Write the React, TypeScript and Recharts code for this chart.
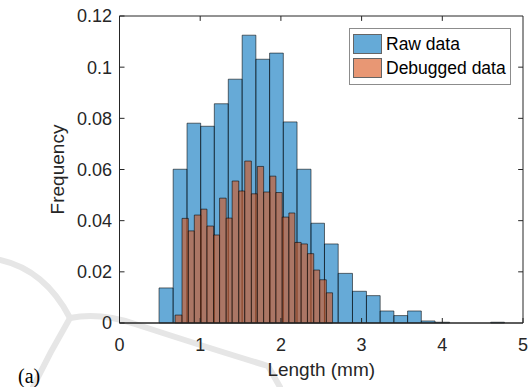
import React from 'react';
import { ComposedChart, XAxis, YAxis, ReferenceArea, ReferenceLine } from 'recharts';

// bin edges (mm) and frequencies
const rawEdges = [0.49, 0.665, 0.837, 1.006, 1.175, 1.348, 1.52, 1.69, 1.86, 2.03, 2.2, 2.373, 2.54, 2.71, 2.887, 3.06, 3.23, 3.4, 3.57, 3.74, 3.91, 4.09, 4.26, 4.43, 4.6, 4.77];
const rawFreq = [0.0137, 0.0601, 0.0781, 0.0769, 0.0857, 0.0953, 0.1125, 0.1031, 0.1055, 0.0786, 0.0601, 0.039, 0.0309, 0.0194, 0.0124, 0.0107, 0.0047, 0.0029, 0.0047, 0.0008, 0.0003, 0, 0, 0, 0.0003];

const debugEdges = [0.689, 0.775, 0.853, 0.927, 1.01, 1.084, 1.166, 1.24, 1.322, 1.396, 1.478, 1.552, 1.634, 1.708, 1.786, 1.864, 1.938, 2.016, 2.099, 2.173, 2.251, 2.329, 2.407, 2.481, 2.563, 2.64];
const debugFreq = [0.0031, 0.0409, 0.036, 0.0422, 0.0445, 0.0379, 0.0344, 0.0488, 0.041, 0.0555, 0.0516, 0.0633, 0.0505, 0.0612, 0.0512, 0.0574, 0.051, 0.0414, 0.043, 0.0315, 0.0309, 0.0271, 0.0207, 0.0169, 0.0118];

const xTicks = [0, 1, 2, 3, 4, 5];
const yTicks = [0, 0.02, 0.04, 0.06, 0.08, 0.1, 0.12];
const xMax = 5;
const yMax = 0.12;

const series = [
  { name: 'Raw data', color: '#0072BD', edges: rawEdges, freq: rawFreq },
  { name: 'Debugged data', color: '#D95319', edges: debugEdges, freq: debugFreq },
];

const font = '"Liberation Sans", Arial, sans-serif';
const axisColor = '#262626';

const fmtY = (v: number) => (v === 0 ? '0' : String(+v.toFixed(2)));

export default function App() {
  return (
    <div style={{ position: 'absolute', left: 0, top: 0, width: 532, height: 387, background: '#fff' }}>
      {/* faint watermark behind the figure */}
      <svg width={532} height={387} style={{ position: 'absolute', left: 0, top: 0 }}>
        <g fill="none" stroke="#e6e6e6" strokeWidth={6} strokeLinecap="round">
          <path d="M0,260 Q45,270 70,318" />
          <path d="M70,318 Q100,312 135,324 Q215,350 268,366 L280,387" />
          <path d="M70,318 Q50,352 33,387" />
        </g>
        <text x={18} y={383} fontFamily='"Liberation Serif", "Times New Roman", serif' fontSize={20} fill="#000">(a)</text>
      </svg>
      <ComposedChart width={532} height={387} margin={{ top: 16, right: 9, bottom: 0, left: 0 }}>
        <XAxis
          type="number"
          dataKey="x"
          domain={[0, xMax]}
          ticks={xTicks}
          allowDataOverflow
          height={64}
          stroke={axisColor}
          tickSize={-5}
          tickMargin={20}
          tick={{ fontSize: 18, fill: axisColor, fontFamily: font }}
          label={{ value: 'Length (mm)', position: 'insideBottom', offset: 11, fontSize: 19, fill: axisColor, fontFamily: font }}
        />
        <YAxis
          type="number"
          domain={[0, yMax]}
          ticks={yTicks}
          allowDataOverflow
          width={119.5}
          stroke={axisColor}
          tickSize={-5}
          tickMargin={12.5}
          tickFormatter={fmtY}
          tick={{ fontSize: 18, fill: axisColor, fontFamily: font }}
          label={{ value: 'Frequency', angle: -90, position: 'center', dx: -2, fontSize: 19, fill: axisColor, fontFamily: font }}
        />

        {series.map((s) =>
          s.freq.map((f, i) =>
            f > 0 ? (
              <ReferenceArea
                key={`${s.name}-${i}`}
                x1={s.edges[i]}
                x2={s.edges[i + 1]}
                y1={0}
                y2={f}
                fill={s.color}
                fillOpacity={0.6}
                stroke="#000"
                strokeOpacity={0.7}
                strokeWidth={0.8}
                ifOverflow="visible"
              />
            ) : null
          )
        )}

        {/* axes box with inward ticks on top and right, like MATLAB's box on */}
        <ReferenceArea x1={0} x2={xMax} y1={0} y2={yMax} fill="none" stroke={axisColor} strokeWidth={1} ifOverflow="visible" />
        {xTicks.slice(1, -1).map((t) => (
          <ReferenceLine key={`tx-${t}`} segment={[{ x: t, y: yMax }, { x: t, y: yMax * 0.984 }]} stroke={axisColor} ifOverflow="visible" />
        ))}
        {yTicks.slice(1, -1).map((t) => (
          <ReferenceLine key={`ty-${t}`} segment={[{ x: xMax, y: t }, { x: xMax * 0.988, y: t }]} stroke={axisColor} ifOverflow="visible" />
        ))}
      </ComposedChart>
      {/* legend box, top right inside the axes */}
      <div style={{ position: 'absolute', left: 349, top: 28, border: '1px solid #8c8c8c', background: '#fff', padding: '3px 3px 4px 3px', width: 162, boxSizing: 'border-box', fontFamily: font, fontSize: 17.5, color: '#000' }}>
        {series.map((s) => (
          <div key={s.name} style={{ display: 'flex', alignItems: 'center', height: 24 }}>
            <div style={{ width: 27, height: 18, border: '1px solid #000', background: s.color, opacity: 0.6, marginRight: 4 }} />
            <span>{s.name}</span>
          </div>
        ))}
      </div>
    </div>
  );
}
